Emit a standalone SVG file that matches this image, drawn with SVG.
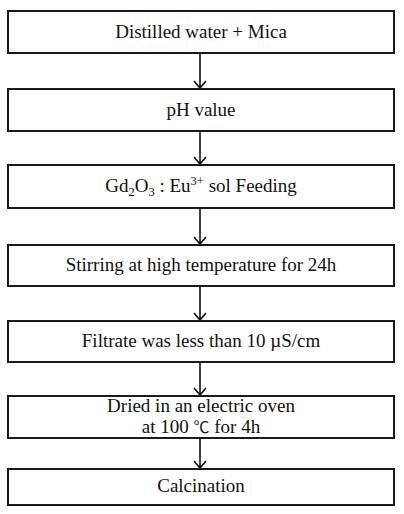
<svg xmlns="http://www.w3.org/2000/svg" width="404" height="514" viewBox="0 0 404 514">
<defs>
<style>
.box{fill:#fff;stroke:#1a1a1a;stroke-width:2}
text{font-size:19px;fill:#111;text-anchor:middle}
.cjk{font-size:16px}
.c{stroke:#111;stroke-width:1.6;fill:none}
.sub{font-size:12.5px}
</style>
</defs>
<rect width="404" height="514" fill="#fff"/>
<g id="connectors">
<path class="c" d="M200 53V88M194 81L200 88L206 81"/>
<path class="c" d="M200 131V164M194 157L200 164L206 157"/>
<path class="c" d="M200 208V244M194 237L200 244L206 237"/>
<path class="c" d="M200 286V320M194 313L200 320L206 313"/>
<path class="c" d="M200 362V395M194 388L200 395L206 388"/>
<path class="c" d="M200 438V468M194 461L200 468L206 461"/>
</g>
<g id="nodes" font-family="Liberation Serif, DejaVu Serif, serif">
<g id="n1"><rect class="box" x="8" y="11" width="386" height="42"/><text x="201" y="38">Distilled water + Mica</text></g>
<g id="n2"><rect class="box" x="8" y="89" width="386" height="42"/><text x="201" y="116">pH value</text></g>
<g id="n3"><rect class="box" x="8" y="165" width="386" height="43"/><text x="201" y="192">Gd<tspan class="sub" dy="4">2</tspan><tspan dy="-4">O</tspan><tspan class="sub" dy="4">3</tspan><tspan dy="-4"> : Eu</tspan><tspan class="sub" dy="-7">3+</tspan><tspan dy="7"> sol Feeding</tspan></text></g>
<g id="n4"><rect class="box" x="8" y="245" width="386" height="41"/><text x="201" y="271">Stirring at high temperature for 24h</text></g>
<g id="n5"><rect class="box" x="8" y="321" width="386" height="41"/><text x="201" y="347">Filtrate was less than 10 µS/cm</text></g>
<g id="n6"><rect class="box" x="8" y="396" width="386" height="42"/><text x="201" y="412">Dried in an electric oven</text><text x="201" y="433">at 100 <tspan class="cjk" font-family="Noto Sans CJK KR, sans-serif">℃</tspan> for 4h</text></g>
<g id="n7"><rect class="box" x="8" y="469" width="386" height="36"/><text x="201" y="492">Calcination</text></g>
</g>
</svg>
